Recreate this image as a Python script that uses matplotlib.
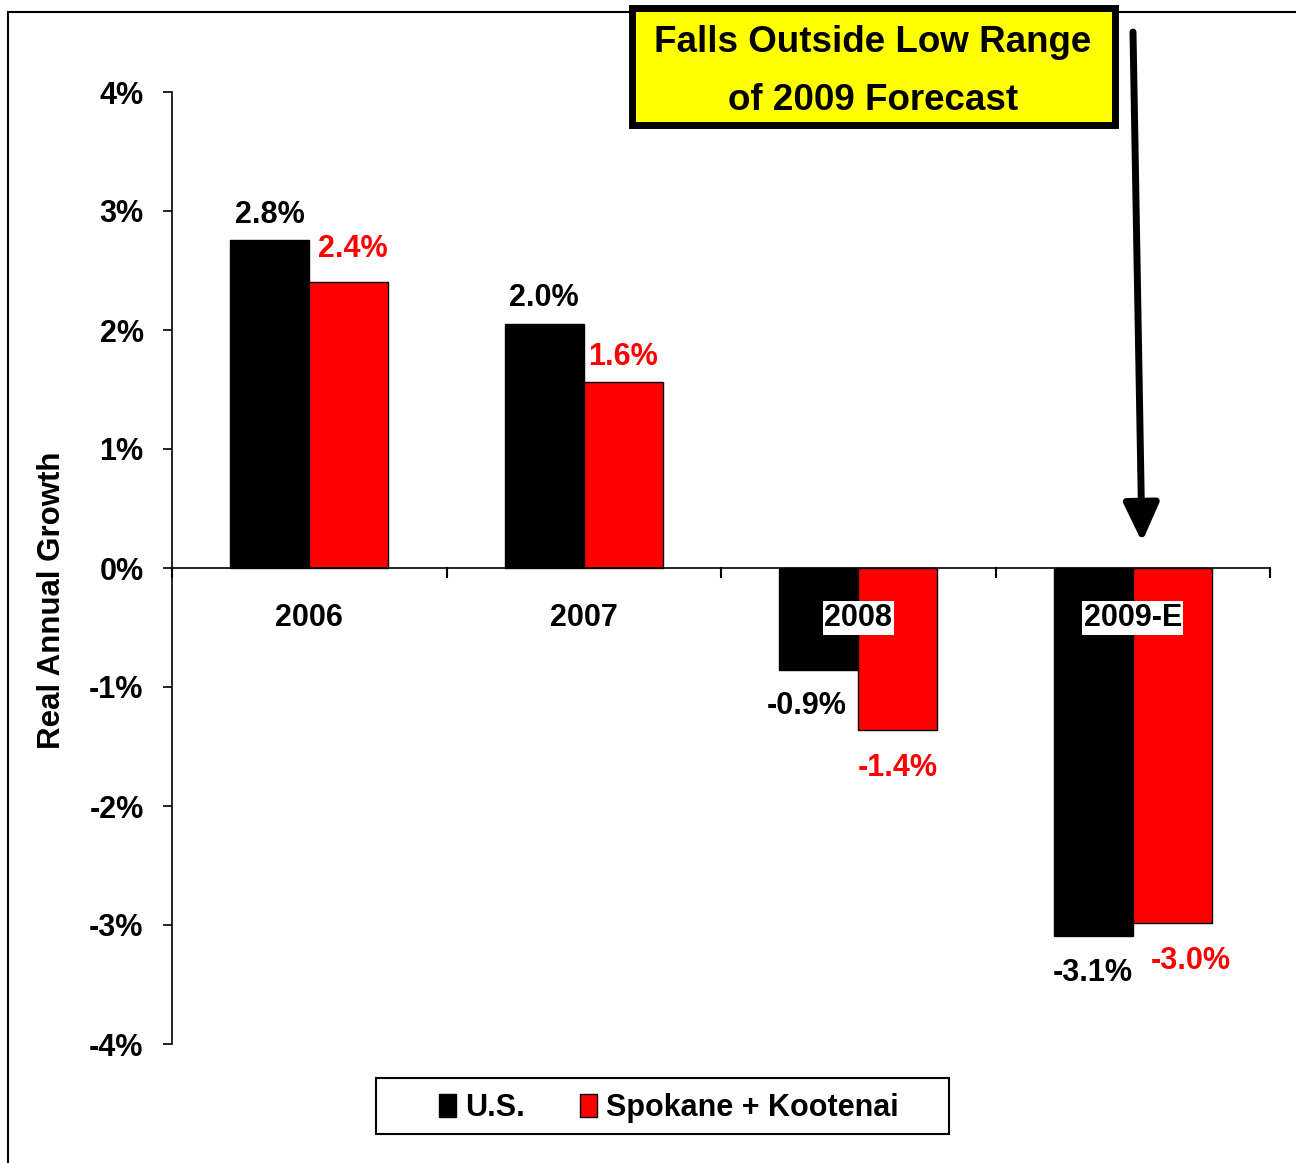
import matplotlib.pyplot as plt
from matplotlib.patches import Rectangle, FancyArrowPatch
import numpy as np

plt.rcParams['font.family'] = ['Liberation Sans', 'DejaVu Sans']
plt.rcParams['font.weight'] = 'bold'

# dados
anos = ["2006", "2007", "2008", "2009-E"]
us = [2.76, 2.05, -0.86, -3.09]
spokane = [2.40, 1.56, -1.36, -2.98]
rotulos_us = ["2.8%", "2.0%", "-0.9%", "-3.1%"]
rotulos_sp = ["2.4%", "1.6%", "-1.4%", "-3.0%"]

W, H = 1296, 1163
fig = plt.figure(figsize=(W / 100, H / 100), dpi=100)
fig.patch.set_facecolor("white")

def fx(px):
    return px / W

def fy(py):
    return 1 - py / H

ax = fig.add_axes([fx(172), fy(1044), fx(1270) - fx(172), fy(92) - fy(1044)])

x = np.arange(len(anos))
larg = 0.288
ax.bar(x - larg / 2, us, larg, color="black", edgecolor="black", linewidth=1, label="U.S.")
ax.bar(x + larg / 2, spokane, larg, color="#ff0000", edgecolor="black", linewidth=1,
       label="Spokane + Kootenai")

ax.set_xlim(-0.5, len(anos) - 0.5)
ax.set_ylim(-4, 4)
ax.set_yticks(range(-4, 5))
ax.set_yticklabels([f"{v}%" for v in range(-4, 5)], fontsize=22, fontweight="bold")
ax.tick_params(axis="y", direction="out", length=6.5, width=1.2, pad=14)

# eixo x no zero, ticks nos limites das categorias
for s in ["top", "right", "bottom"]:
    ax.spines[s].set_visible(False)
ax.spines["left"].set_linewidth(1.2)
ax.axhline(0, color="black", linewidth=1.2, zorder=3)
ax.set_xticks([])
for b in np.arange(-0.5, len(anos), 1.0):
    ax.plot([b, b], [0, -0.075], color="black", linewidth=1.5, clip_on=False, zorder=3)

for i, a in enumerate(anos):
    ax.text(i, -0.42, a, ha="center", va="center", fontsize=22, fontweight="bold", zorder=5,
            bbox=dict(facecolor="white", edgecolor="none", pad=1))

# rotulos das barras (deslocamentos em pixels)
desl_us = [(0, 25), (0, 26), (-12, -36), (0, -37)]
desl_sp = [(4, 33), (0, 25), (0, -38), (18, -38)]
for i in range(len(anos)):
    dx, dy = desl_us[i]
    ax.annotate(rotulos_us[i], (x[i] - larg / 2, us[i]), xytext=(dx * 0.72, dy * 0.72),
                textcoords="offset points", ha="center", va="center", fontsize=22,
                fontweight="bold", color="black")
    dx, dy = desl_sp[i]
    ax.annotate(rotulos_sp[i], (x[i] + larg / 2, spokane[i]), xytext=(dx * 0.72, dy * 0.72),
                textcoords="offset points", ha="center", va="center", fontsize=22,
                fontweight="bold", color="#ff0000")

fig.text(fx(52), fy(600), "Real Annual Growth", rotation=90, ha="center", va="center",
         fontsize=22.5, fontweight="bold")

# moldura externa
fig.patches.append(Rectangle((fx(8), fy(1200)), fx(1320) - fx(8), fy(12) - fy(1200),
                             transform=fig.transFigure, facecolor="none",
                             edgecolor="black", linewidth=1.5, zorder=0))

# caixa amarela
fig.patches.append(Rectangle((fx(632), fy(125)), fx(1115) - fx(632), fy(8) - fy(125),
                             transform=fig.transFigure, facecolor="#ffff00",
                             edgecolor="black", linewidth=5, zorder=5))
fig.text(fx(873), fy(43), "Falls Outside Low Range", ha="center", va="center",
         fontsize=26.5, fontweight="bold", zorder=6)
fig.text(fx(873), fy(100), "of 2009 Forecast", ha="center", va="center",
         fontsize=26.5, fontweight="bold", zorder=6)

# seta
seta = FancyArrowPatch((fx(1133), fy(32)), (fx(1142), fy(542)), transform=fig.transFigure,
                       arrowstyle="-|>,head_length=1.3,head_width=0.6", mutation_scale=18,
                       color="black", linewidth=5, shrinkA=0, shrinkB=0, zorder=6)
fig.patches.append(seta)

# legenda: caixa desenhada a parte
fig.patches.append(Rectangle((fx(376), fy(1134)), fx(949) - fx(376), fy(1078) - fy(1134),
                             transform=fig.transFigure, facecolor="white",
                             edgecolor="black", linewidth=1.5, zorder=1))
leg = fig.legend(loc="center", bbox_to_anchor=(fx(669), fy(1108)), ncol=2, fontsize=22,
                 frameon=False, handlelength=0.55, handleheight=0.8, handletextpad=0.3,
                 columnspacing=1.8, borderpad=0, borderaxespad=0)
leg.set_zorder(2)
for t in leg.get_texts():
    t.set_fontweight("bold")

fig.savefig("out.png", dpi=100, facecolor="white")
